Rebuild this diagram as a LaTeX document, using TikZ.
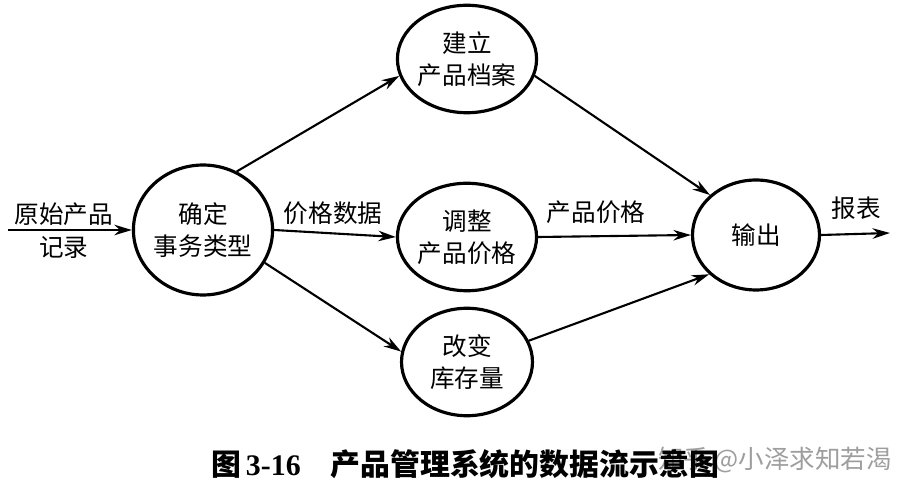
\documentclass[tikz,border=0pt]{standalone}
\usepackage{fontspec}
\setmainfont{Liberation Serif}
\newfontfamily\cjk{Noto Sans CJK SC}
\usetikzlibrary{arrows.meta,shapes.geometric}
\tikzset{
  proc/.style={
    draw, ellipse, line width=1.8pt, align=center, inner sep=0pt,
    minimum width=2.62cm, minimum height=2.15cm,
    font=\cjk\fontsize{14}{18}\selectfont
  },
  arr/.style={-{Stealth[length=10pt,width=6pt]}, line width=1.2pt},
  lab/.style={font=\cjk\fontsize{14}{18}\selectfont, align=center}
}

\begin{document}
\begin{tikzpicture}[x=0.02cm,y=-0.02cm]
\useasboundingbox[fill=white] (0,0) rectangle (920,496);

\node[proc, minimum width=2.68cm, minimum height=2.6cm] (typ) at (203,230) {确定\\事务类型};
\node[proc] (est) at (467,59) {建立\\产品档案};
\node[proc] (adj) at (467,237) {调整\\产品价格};
\node[proc] (chg) at (467,362) {改变\\库存量};
\node[proc, minimum width=2.54cm, minimum height=2.2cm] (out) at (756,235) {输出};

\coordinate (src) at (8,230);
\coordinate (rep) at (890,233);

\draw[arr] (src) -- (typ.west);
\draw[arr] (typ.60) -- (est.194);
\draw[arr] (typ.east) -- (adj.west);
\draw[arr] (typ.-28) -- (chg.171);
\draw[arr] (est.-14) -- (out.139);
\draw[arr] (adj.east) -- (out.west);
\draw[arr] (chg.19) -- (out.220);
\draw[arr] (out.east) -- (rep);

\node[lab] (l1) at (64,214) {原始产品};
\node[lab] (l2) at (64,247) {记录};
\node[lab] (l3) at (333,213) {价格数据};
\node[lab] (l4) at (596,212) {产品价格};
\node[lab] (l5) at (856,208) {报表};

\node[font=\cjk\fontsize{14.5}{16}\selectfont, text=black!38] (wm) at (775,460) {知乎 @小泽求知若渴};
\node[font=\cjk\bfseries\fontsize{17}{20}\selectfont] (cap) at (465,464)
  {图\,{\rmfamily 3-16}\quad 产品管理系统的数据流示意图};
\end{tikzpicture}
\end{document}
